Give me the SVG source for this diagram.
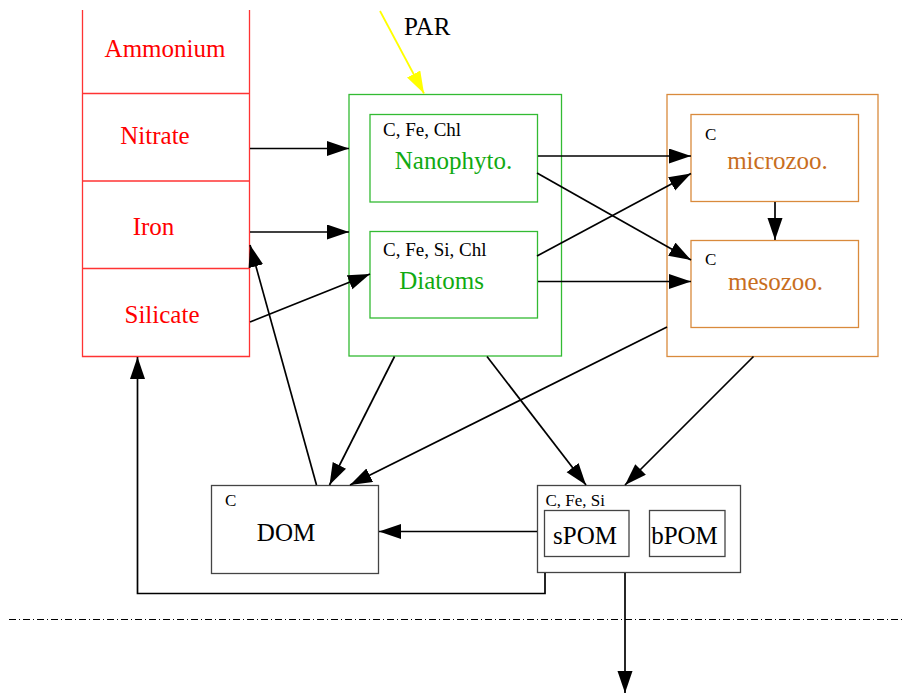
<svg xmlns="http://www.w3.org/2000/svg" width="904" height="693" viewBox="0 0 904 693">
<style>
text{font-family:"Liberation Serif","Times New Roman",serif}
.big{font-size:25px}
.sm{font-size:17px;fill:#000}
.ph{font-size:19px;fill:#000}
.red{fill:#ff0000}
.grn{fill:#11aa11}
.org{fill:#c86e1e}
.box{fill:none;stroke-width:1.3}
.rs{stroke:#ff3333}
.gs{stroke:#33bb33}
.os{stroke:#d98a3c}
.ks{stroke:#444}
.c{fill:none;stroke:#000;stroke-width:1.7}
</style>
<defs>
<marker id="ah" markerUnits="userSpaceOnUse" markerWidth="23" markerHeight="16" refX="22" refY="7.5" orient="auto">
<path d="M0,0 L22,7.5 L0,15 z" fill="#000"/>
</marker>
<marker id="ay" markerUnits="userSpaceOnUse" markerWidth="23" markerHeight="16" refX="22" refY="7.5" orient="auto">
<path d="M0,0 L22,7.5 L0,15 z" fill="#ffff00"/>
</marker>
</defs>

<g id="nutrients">
<path class="box rs" d="M82.5,10 V356.5 H249.5 V10 M82.5,93.5 H249.5 M82.5,181 H249.5 M82.5,268.5 H249.5"/>
<text class="big red" x="165" y="57" text-anchor="middle">Ammonium</text>
<text class="big red" x="155" y="144" text-anchor="middle">Nitrate</text>
<text class="big red" x="153.5" y="235" text-anchor="middle">Iron</text>
<text class="big red" x="162" y="323" text-anchor="middle">Silicate</text>
</g>

<g id="par">
<text x="404" y="35" style="font-size:25px">PAR</text>
</g>

<g id="phyto">
<rect class="box gs" x="349" y="94.5" width="212.5" height="261.5"/>
</g>
<g id="nanophyto">
<rect class="box gs" x="370" y="114.5" width="167.5" height="87.5"/>
<text class="ph" x="383" y="136">C, Fe, Chl</text>
<text class="big grn" x="453.5" y="168.5" text-anchor="middle">Nanophyto.</text>
</g>
<g id="diatoms">
<rect class="box gs" x="370" y="231.5" width="167.5" height="86.5"/>
<text class="ph" x="383" y="256">C, Fe, Si, Chl</text>
<text class="big grn" x="441.5" y="289" text-anchor="middle">Diatoms</text>
</g>

<g id="zoo">
<rect class="box os" x="667" y="94.5" width="211" height="262"/>
</g>
<g id="microzoo">
<rect class="box os" x="691" y="114.5" width="167.5" height="87"/>
<text class="sm" x="705" y="140">C</text>
<text class="big org" x="777.5" y="169" text-anchor="middle">microzoo.</text>
</g>
<g id="mesozoo">
<rect class="box os" x="691" y="240.5" width="167.5" height="87"/>
<text class="sm" x="705" y="265">C</text>
<text class="big org" x="775.5" y="289.5" text-anchor="middle">mesozoo.</text>
</g>

<g id="dom">
<rect class="box ks" x="211.5" y="485.5" width="167" height="88"/>
<text class="sm" x="225" y="506">C</text>
<text class="big" x="286" y="541" text-anchor="middle">DOM</text>
</g>

<g id="pom">
<rect class="box ks" x="537.5" y="485.5" width="203" height="87"/>
<text class="sm" x="545.5" y="506">C, Fe, Si</text>
<rect class="box ks" x="544.5" y="510.5" width="84.5" height="46"/>
<text class="big" x="585" y="544" text-anchor="middle">sPOM</text>
<rect class="box ks" x="649.5" y="510.5" width="75.5" height="46"/>
<text class="big" x="684.5" y="544" text-anchor="middle">bPOM</text>
</g>

<g id="connectors">
<line x1="380" y1="11" x2="424" y2="93.5" stroke="#ffff00" stroke-width="1.8" marker-end="url(#ay)"/>
<line class="c" x1="250" y1="148.5" x2="349" y2="148.5" marker-end="url(#ah)"/>
<line class="c" x1="250" y1="232" x2="349" y2="232" marker-end="url(#ah)"/>
<line class="c" x1="250" y1="322" x2="370" y2="274" marker-end="url(#ah)"/>
<line class="c" x1="316.5" y1="485" x2="250" y2="245" marker-end="url(#ah)"/>
<line class="c" x1="538" y1="156" x2="691" y2="156" marker-end="url(#ah)"/>
<line class="c" x1="537" y1="173" x2="691" y2="260" marker-end="url(#ah)"/>
<line class="c" x1="537" y1="256" x2="691" y2="173.5" marker-end="url(#ah)"/>
<line class="c" x1="538" y1="281.5" x2="691" y2="281.5" marker-end="url(#ah)"/>
<line class="c" x1="775" y1="202" x2="775" y2="240" marker-end="url(#ah)"/>
<line class="c" x1="394.5" y1="356.5" x2="329.5" y2="485" marker-end="url(#ah)"/>
<line class="c" x1="667" y1="327" x2="350" y2="485" marker-end="url(#ah)"/>
<line class="c" x1="487" y1="356.5" x2="586" y2="485" marker-end="url(#ah)"/>
<line class="c" x1="753.5" y1="356.5" x2="625" y2="485" marker-end="url(#ah)"/>
<line class="c" x1="537" y1="531.5" x2="379" y2="531.5" marker-end="url(#ah)"/>
<polyline class="c" points="545,573 545,593.5 137.5,593.5 137.5,357" marker-end="url(#ah)"/>
<line class="c" x1="625" y1="573" x2="625" y2="693" marker-end="url(#ah)"/>
<line x1="9" y1="619.5" x2="903" y2="619.5" stroke="#000" stroke-width="1" stroke-dasharray="7 3 1 3"/>
</g>
</svg>
